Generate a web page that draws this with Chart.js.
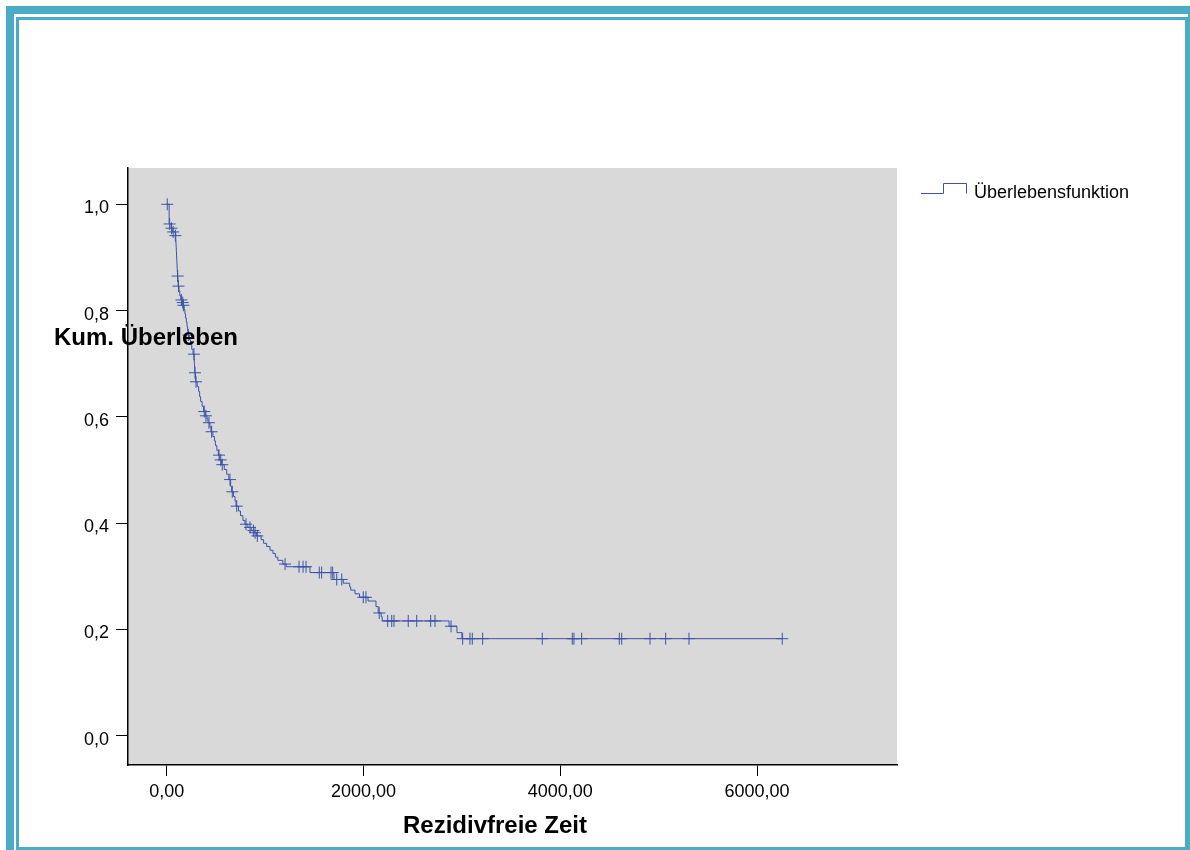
<!DOCTYPE html>
<html>
<head>
<meta charset="utf-8">
<script src="https://cdn.jsdelivr.net/npm/chart.js@4/dist/chart.umd.min.js"></script>
<style>
  html, body { margin: 0; padding: 0; background: #ffffff; }
  #wrap { position: relative; width: 1190px; height: 850px; }
  canvas { display: block; }
</style>
</head>
<body>
<div id="wrap"><canvas id="c" width="1190" height="850"></canvas></div>
<script>
// ---- data ----
const eventTimes = [25,45,62,92,94,96,98,100,102,104,106,108,110,114,117,125,133,143,160,166,178,185,192,200,207,213,218,230,242,255,268,279,281,283,285,292,295,310,325,335,345,360,375,392,410,420,440,450,470,485,495,510,525,540,558,585,610,632,650,660,680,695,705,730,750,775,795,825,860,890,912,960,985,1016,1050,1080,1105,1130,1180,1215,1456,1700,1795,1860,1870,1914,1960,2046,2127,2150,2180,2190,2870,2950,3000,6256];
const eventSurv = [0.963,0.955,0.948,0.934,0.926,0.919,0.911,0.903,0.896,0.888,0.880,0.873,0.865,0.856,0.846,0.837,0.828,0.820,0.815,0.810,0.802,0.794,0.786,0.778,0.770,0.762,0.754,0.745,0.736,0.727,0.718,0.709,0.700,0.692,0.683,0.675,0.666,0.657,0.648,0.638,0.629,0.620,0.610,0.602,0.596,0.589,0.581,0.572,0.563,0.555,0.546,0.537,0.528,0.519,0.510,0.501,0.492,0.482,0.469,0.459,0.450,0.441,0.432,0.423,0.414,0.405,0.398,0.392,0.386,0.382,0.376,0.369,0.362,0.356,0.349,0.343,0.336,0.330,0.323,0.318,0.307,0.294,0.287,0.280,0.274,0.267,0.2605,0.2535,0.243,0.231,0.224,0.216,0.206,0.194,0.1826,0.1826];
const censorTimes = [6,30,50,66,88,112,120,150,163,170,220,277,288,298,382,399,430,457,532,549,565,643,667,712,806,847,881,898,921,1203,1345,1386,1416,1551,1575,1670,1687,1728,1779,1998,2025,2160,2246,2287,2310,2455,2541,2683,2727,2890,3008,3082,3106,3211,3817,4122,4139,4217,4600,4624,4912,5071,5308,6256];
const censorSurv = [1.0,0.963,0.955,0.948,0.941,0.865,0.846,0.820,0.815,0.810,0.754,0.718,0.683,0.666,0.610,0.602,0.589,0.572,0.528,0.519,0.510,0.482,0.459,0.432,0.398,0.392,0.386,0.382,0.376,0.323,0.318,0.318,0.318,0.307,0.307,0.307,0.307,0.294,0.294,0.2605,0.2605,0.231,0.216,0.216,0.216,0.216,0.216,0.216,0.216,0.206,0.1826,0.1826,0.1826,0.1826,0.1826,0.1826,0.1826,0.1826,0.1826,0.1826,0.1826,0.1826,0.1826,0.1826];
const xTickValues = [0, 2000, 4000, 6000];
const yTickValues = [0, 0.2, 0.4, 0.6, 0.8, 1.0];
const seriesName = 'Überlebensfunktion';
const xTitle = 'Rezidivfreie Zeit';
const yTitle = 'Kum. Überleben';

const FONT = '"Liberation Sans", Arial, Helvetica, sans-serif';
const BLUE = '#3a54a8';
const TEAL = '#4bacc6';

const linePts = [{x: 0, y: 1.0}].concat(eventTimes.map((t, i) => ({x: t, y: eventSurv[i]})));
const censorPts = censorTimes.map((t, i) => ({x: t, y: censorSurv[i]}));

const decorPlugin = {
  id: 'decor',
  beforeDraw(chart) {
    const {ctx, chartArea: a} = chart;
    ctx.save();
    ctx.fillStyle = '#ffffff';
    ctx.fillRect(0, 0, chart.width, chart.height);
    ctx.fillStyle = '#d9d9d9';
    ctx.fillRect(a.left, a.top, a.right - a.left, a.bottom - a.top);
    ctx.restore();
  },
  afterDraw(chart) {
    const {ctx} = chart;
    ctx.save();
    // frame
    ctx.fillStyle = TEAL;
    ctx.fillRect(6, 6, 1184, 8);
    ctx.fillRect(6, 6, 8, 844);
    ctx.fillRect(1188, 14, 2, 836);
    ctx.fillRect(16, 17, 1172, 3);
    ctx.fillRect(16, 17, 3, 833);
    ctx.fillRect(1185, 17, 3, 833);
    ctx.fillRect(16, 847, 1172, 3);
    // axis titles
    ctx.fillStyle = '#000000';
    ctx.font = 'bold 24px ' + FONT;
    ctx.textBaseline = 'middle';
    ctx.textAlign = 'left';
    ctx.fillText(yTitle, 54, 338);
    ctx.textAlign = 'center';
    ctx.fillText(xTitle, 495, 826);
    // legend
    ctx.strokeStyle = BLUE;
    ctx.lineWidth = 1;
    ctx.beginPath();
    ctx.moveTo(921, 193.5);
    ctx.lineTo(943.5, 193.5);
    ctx.lineTo(943.5, 183.5);
    ctx.lineTo(966.5, 183.5);
    ctx.lineTo(966.5, 193.5);
    ctx.stroke();
    ctx.fillStyle = '#000000';
    ctx.font = '18px ' + FONT;
    ctx.textAlign = 'left';
    ctx.textBaseline = 'alphabetic';
    ctx.fillText(seriesName, 974, 198);
    ctx.restore();
  }
};

new Chart(document.getElementById('c'), {
  type: 'line',
  data: {
    datasets: [
      {
        label: seriesName,
        data: linePts,
        stepped: 'before',
        borderColor: BLUE,
        borderWidth: 1,
        pointRadius: 0,
        fill: false
      },
      {
        label: 'censored',
        type: 'scatter',
        data: censorPts,
        showLine: false,
        pointStyle: 'cross',
        pointRadius: 6,
        pointBorderWidth: 1,
        borderColor: BLUE,
        backgroundColor: BLUE
      }
    ]
  },
  options: {
    responsive: false,
    animation: false,
    devicePixelRatio: 1,
    layout: { padding: { left: 0, top: 168, right: 293, bottom: 0 } },
    plugins: { legend: { display: false }, tooltip: { enabled: false } },
    scales: {
      x: {
        type: 'linear',
        min: -393,
        max: 7422,
        afterFit: (s) => { s.height = 85; },
        afterBuildTicks: (s) => { s.ticks = xTickValues.map(v => ({value: v})); },
        ticks: {
          includeBounds: false,
          color: '#000000',
          font: { family: FONT, size: 18 },
          padding: 5,
          maxRotation: 0,
          callback: (v) => Number(v).toFixed(2).replace('.', ',')
        },
        grid: { drawOnChartArea: false, drawTicks: true, tickLength: 11, color: '#000000', tickWidth: 1 },
        border: { display: true, color: '#000000', width: 1.5 }
      },
      y: {
        type: 'linear',
        min: -0.0551,
        max: 1.0683,
        afterFit: (s) => { s.width = 128; },
        afterBuildTicks: (s) => { s.ticks = yTickValues.map(v => ({value: v})); },
        ticks: {
          includeBounds: false,
          color: '#000000',
          font: { family: FONT, size: 18 },
          padding: 7,
          labelOffset: 4,
          callback: (v) => Number(v).toFixed(1).replace('.', ',')
        },
        grid: { drawOnChartArea: false, drawTicks: true, tickLength: 12, color: '#000000', tickWidth: 1 },
        border: { display: true, color: '#000000', width: 1.5 }
      }
    }
  },
  plugins: [decorPlugin]
});
</script>
</body>
</html>
